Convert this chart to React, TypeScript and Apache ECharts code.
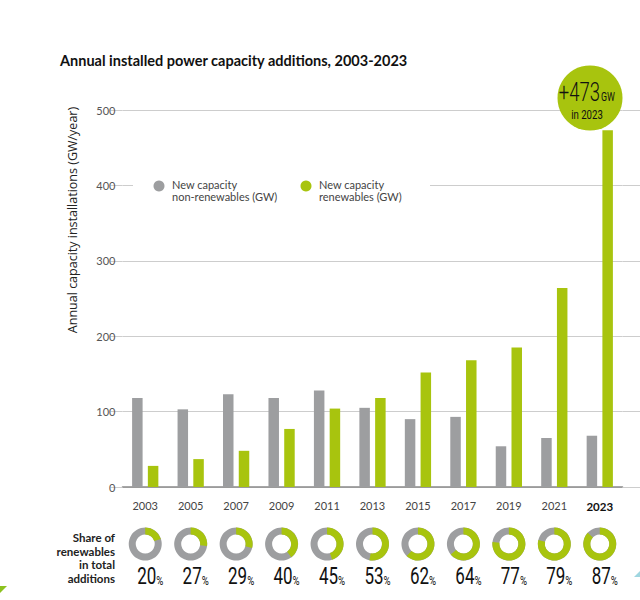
import React, { useEffect, useRef } from 'react';
import * as echarts from 'echarts';

const years = ['2003', '2005', '2007', '2009', '2011', '2013', '2015', '2017', '2019', '2021', '2023'];
const nonRenewables = [118, 103, 123, 118, 128, 105, 90, 93, 54, 65, 68];
const renewables = [28, 37, 48, 77, 104, 118, 152, 168, 185, 264, 473];
const sharePct = [20, 27, 29, 40, 45, 53, 62, 64, 77, 79, 87];
const yTicks = [0, 100, 200, 300, 400, 500];

const GREY = '#9d9ea0';
const GREEN = '#a8c40e';
const GRID = '#cdcdcd';
const NARROW = "Roboto, 'Liberation Sans', sans-serif";
const SANS = "Lato, 'Open Sans', sans-serif";
const WIDE = "'Open Sans', Lato, sans-serif";
const SQUEEZE = 0.74;

export default function App() {
  const ref = useRef<HTMLDivElement>(null);
  useEffect(() => {
    const chart = echarts.init(ref.current as HTMLDivElement, null, { renderer: 'svg' });
    const lastRenew = renewables[renewables.length - 1];
    const option: any = {
      animation: false,
      backgroundColor: '#ffffff',
      textStyle: { fontFamily: SANS },
      grid: { left: 122.5, right: 17.5, top: 110, bottom: 113, containLabel: false },
      xAxis: {
        type: 'category',
        data: years,
        axisTick: { show: false },
        axisLine: { lineStyle: { color: '#8a8a8a', width: 1.5 } },
        axisLabel: {
          interval: 0,
          margin: 13,
          color: '#444',
          fontSize: 11,
          fontFamily: SANS,
          formatter: (v: string) => (v === '2023' ? '{b|' + v + '}' : v),
          rich: { b: { fontWeight: 'bold', color: '#111', fontSize: 11.5, fontFamily: SANS } },
        },
      },
      yAxis: [
        {
          type: 'value',
          min: yTicks[0],
          max: yTicks[yTicks.length - 1],
          interval: 100,
          axisLine: { show: false },
          axisTick: { show: true, length: 12, lineStyle: { color: GRID } },
          axisLabel: { margin: 7, color: '#555', fontSize: 11, fontFamily: SANS },
          splitLine: { lineStyle: { color: GRID, width: 1 } },
        },
        {
          type: 'value',
          position: 'right',
          min: yTicks[0],
          max: yTicks[yTicks.length - 1],
          interval: 100,
          axisLine: { show: false },
          axisTick: { show: true, length: 18, lineStyle: { color: GRID } },
          axisLabel: { show: false },
          splitLine: { show: false },
        },
      ],
      series: [
        {
          name: 'New capacity non-renewables (GW)',
          type: 'bar',
          data: nonRenewables,
          barWidth: 10.5,
          barGap: '50%',
          itemStyle: { color: GREY },
        },
        {
          name: 'New capacity renewables (GW)',
          type: 'bar',
          data: renewables,
          barWidth: 10.5,
          barGap: '50%',
          itemStyle: { color: GREEN },
        },
        {
          type: 'custom',
          clip: false,
          silent: true,
          data: sharePct.map((s, i) => [i, s]),
          encode: { x: 0, y: 1 },
          renderItem: (params: any, api: any) => {
            const i = api.value(0);
            const s = api.value(1);
            const base = api.coord([i, 0]);
            const cx = base[0];
            const cy = base[1] + 57;
            const start = -Math.PI / 2;
            return {
              type: 'group',
              children: [
                { type: 'ring', shape: { cx, cy, r: 16.5, r0: 9.5 }, style: { fill: GREY } },
                {
                  type: 'sector',
                  shape: { cx, cy, r: 16.5, r0: 9.5, startAngle: start, endAngle: start + (2 * Math.PI * s) / 100, clockwise: true },
                  style: { fill: GREEN },
                },
                {
                  type: 'text',
                  x: cx + 5,
                  y: cy + 32,
                  scaleX: SQUEEZE,
                  style: {
                    text: '{a|' + s + '}{b|%}',
                    align: 'center',
                    verticalAlign: 'middle',
                    rich: {
                      a: { fontSize: 23, fontFamily: NARROW, fontWeight: 'normal', fill: '#111' },
                      b: { fontSize: 13, fontFamily: NARROW, fontWeight: 'normal', fill: '#111', padding: [8, 0, 0, 0] },
                    },
                  },
                },
              ],
            };
          },
        },
      ],
      graphic: [
        {
          type: 'text',
          left: 60,
          top: 53,
          z: 10,
          style: { text: 'Annual installed power capacity additions, 2003-2023', font: 'bold 14.5px ' + SANS, fill: '#111' },
        },
        {
          type: 'text',
          x: 72,
          y: 220,
          z: 10,
          rotation: Math.PI / 2,
          style: { text: 'Annual capacity installations (GW/year)', font: '12.5px ' + WIDE, fill: '#222', align: 'center', verticalAlign: 'middle' },
        },
        { type: 'rect', z: 10, shape: { x: 133, y: 176, width: 297, height: 27 }, style: { fill: '#ffffff' } },
        { type: 'circle', z: 11, shape: { cx: 159, cy: 186, r: 5.5 }, style: { fill: GREY } },
        {
          type: 'text',
          x: 172,
          y: 190,
          z: 11,
          style: { text: 'New capacity\nnon-renewables (GW)', font: '11px ' + SANS, fill: '#444', lineHeight: 12, verticalAlign: 'middle' },
        },
        { type: 'circle', z: 11, shape: { cx: 306, cy: 186, r: 5.5 }, style: { fill: GREEN } },
        {
          type: 'text',
          x: 319,
          y: 190,
          z: 11,
          style: { text: 'New capacity\nrenewables (GW)', font: '11px ' + SANS, fill: '#444', lineHeight: 12, verticalAlign: 'middle' },
        },
        { type: 'circle', z: 10, shape: { cx: 590, cy: 98, r: 32.5 }, style: { fill: GREEN } },
        {
          type: 'text',
          x: 600,
          y: 105,
          z: 11,
          scaleX: SQUEEZE,
          style: { text: '+' + lastRenew, font: '300 25px ' + NARROW, fill: '#111', align: 'right', verticalAlign: 'bottom' },
        },
        {
          type: 'text',
          x: 601,
          y: 103,
          z: 11,
          scaleX: SQUEEZE,
          style: { text: 'GW', font: '12px ' + NARROW, fill: '#111', align: 'left', verticalAlign: 'bottom' },
        },
        {
          type: 'text',
          x: 587,
          y: 114,
          z: 11,
          scaleX: SQUEEZE,
          style: { text: 'in ' + years[years.length - 1], font: '13px ' + NARROW, fill: '#111', align: 'center', verticalAlign: 'middle' },
        },
        {
          type: 'text',
          x: 115,
          y: 558,
          z: 10,
          style: {
            text: 'Share of\nrenewables\nin total\nadditions',
            font: 'bold 11.5px ' + SANS,
            fill: '#222',
            align: 'right',
            verticalAlign: 'middle',
            lineHeight: 13.5,
          },
        },
        { type: 'polygon', z: 10, shape: { points: [[0, 586], [7, 586], [0, 593]] }, style: { fill: '#8cc21f' } },
        { type: 'polygon', z: 10, shape: { points: [[634, 577], [640, 571], [640, 577]] }, style: { fill: '#9fd6e0' } },
      ],
    };
    chart.setOption(option);
    return () => chart.dispose();
  }, []);
  return <div ref={ref} style={{ position: 'absolute', left: 0, top: 0, width: 640, height: 600 }} />;
}
